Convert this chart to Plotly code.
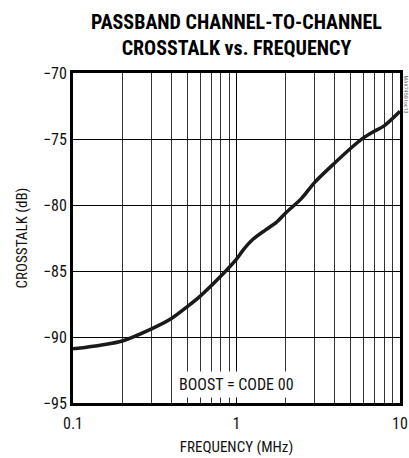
import plotly.graph_objects as go

freq_mhz = [0.1, 0.15, 0.2, 0.3, 0.4, 0.5, 0.6, 0.8, 1.0, 1.1, 1.26, 1.5, 1.76, 2.0, 2.5, 3.0, 4.0, 5.0, 6.0, 7.0, 8.0, 10.0]
crosstalk_db = [-90.9, -90.6, -90.3, -89.4, -88.6, -87.7, -86.9, -85.4, -84.1, -83.4, -82.6, -81.9, -81.3, -80.6, -79.5, -78.3, -76.8, -75.7, -74.9, -74.4, -74.0, -72.9]

x_tickvals = [0.1, 1, 10]
x_ticktext = ["0.1", "1", "10"]
x_minor = [0.2, 0.3, 0.4, 0.5, 0.6, 0.7, 0.8, 0.9, 2, 3, 4, 5, 6, 7, 8, 9]
y_tickvals = [-95, -90, -85, -80, -75, -70]

FONT = "Roboto Condensed, Liberation Sans Narrow, Roboto, sans-serif"

fig = go.Figure()
fig.add_trace(go.Scatter(
    x=freq_mhz, y=crosstalk_db, mode="lines",
    line=dict(color="#1a1a1a", width=3.5, shape="spline", smoothing=0.8),
    showlegend=False, hoverinfo="skip",
))

fig.update_layout(
    width=409, height=458,
    margin=dict(l=73, r=9, t=73, b=55, autoexpand=False),
    paper_bgcolor="white", plot_bgcolor="white",
    font=dict(family=FONT, size=15, color="#111"),
    xaxis=dict(
        type="log", range=[-1, 1],
        tickvals=x_tickvals, ticktext=x_ticktext,
        showgrid=True, gridcolor="#000", gridwidth=1,
        minor=dict(tickvals=x_minor, showgrid=True, gridcolor="#333", gridwidth=1, ticks=""),
        showline=True, linecolor="#000", linewidth=3, mirror=True,
        ticks="", zeroline=False, automargin=False,
        ticklabelstandoff=4,
        title=dict(text="FREQUENCY (MHz)", standoff=10, font=dict(size=15)),
        tickfont=dict(size=16),
    ),
    yaxis=dict(
        range=[-95, -70], tickvals=y_tickvals,
        showgrid=True, gridcolor="#000", gridwidth=1,
        showline=True, linecolor="#000", linewidth=3, mirror=True,
        ticks="", zeroline=False, automargin=False,
        title=dict(text="CROSSTALK (dB)", standoff=12, font=dict(size=15)),
        tickfont=dict(size=16),
    ),
)

fig.add_annotation(
    text="<b>PASSBAND CHANNEL-TO-CHANNEL<br>CROSSTALK vs. FREQUENCY</b>",
    x=(237 - 73) / 327, xref="paper", xanchor="center",
    y=1.0 + 65 / 330, yref="paper", yanchor="top",
    showarrow=False, align="center",
    font=dict(family=FONT, size=20, color="#000"),
)
fig.add_annotation(
    text="BOOST = CODE 00", x=0, y=-93.6, xref="x", yref="y",
    showarrow=False, bgcolor="white", borderpad=3,
    font=dict(family=FONT, size=16, color="#111"),
)
fig.add_annotation(
    text="MAX7450 toc13", x=1.0, xref="paper", xanchor="left", xshift=1,
    y=1.0, yref="paper", yanchor="top", textangle=90, showarrow=False,
    font=dict(family=FONT, size=6, color="#666"),
)

fig.write_html(
    "out.html",
    config={"displayModeBar": False},
    post_script="document.body.style.margin='0';document.body.style.overflow='hidden';",
)
